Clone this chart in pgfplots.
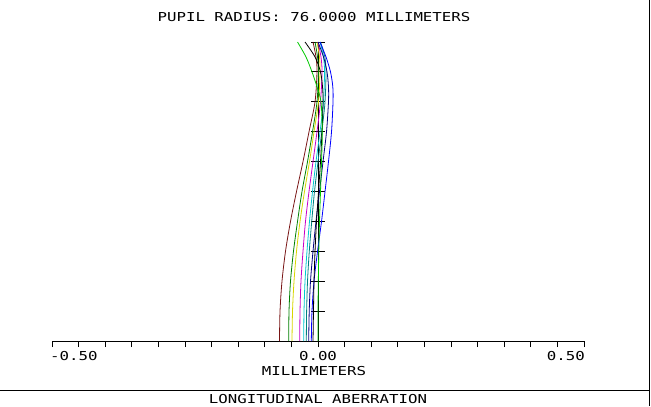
\documentclass[border=0pt]{standalone}
\usepackage{fontspec}
\usepackage{pgfplots}
\pgfplotsset{compat=1.18}
\newfontfamily\zfont[FakeStretch=1.28]{DejaVu Sans Mono}
\newcommand\ztext{\zfont\fontsize{12.3bp}{14bp}\selectfont}
\definecolor{zMaroon}{RGB}{120,20,20}
\definecolor{zDkGreen}{RGB}{0,128,0}
\definecolor{zYellow}{RGB}{215,215,0}
\definecolor{zMagenta}{RGB}{200,0,200}
\definecolor{zCyan}{RGB}{0,200,210}
\definecolor{zTeal}{RGB}{0,128,128}
\definecolor{zNavy}{RGB}{0,0,128}
\definecolor{zBlue}{RGB}{0,0,255}
\definecolor{zGreen}{RGB}{0,200,0}

\begin{document}
\begin{tikzpicture}[x=1bp,y=1bp]
\path[use as bounding box] (0,0) rectangle (651,406);
\begin{axis}[name=ax,at={(52bp,65bp)},anchor=south west,scale only axis,width=532bp,height=299bp,
  xmin=-0.5,xmax=0.5,ymin=0,ymax=1,
  axis x line=bottom,axis y line=middle,axis line style={-,line width=0.8bp,black},
  xtick={-0.5,-0.45,...,0.51},xticklabels={},xtick align=outside,major tick length=6bp,
  tick style={line width=0.8bp,black},ytick=\empty,clip=false,
  every axis plot/.append style={line width=0.8bp,smooth,no marks}]
% horizontal ticks on the pupil axis
\pgfplotsinvokeforeach{0.1,0.2,0.3,0.4,0.5,0.6,0.7,0.8,0.9,1.0}{
  \draw[line width=0.8bp] (axis cs:-0.0125,#1) -- (axis cs:0.0125,#1);
}
\addplot[zMaroon] coordinates {(-0.0724,0) (-0.0714,0.1) (-0.0677,0.2) (-0.0611,0.3) (-0.0517,0.4) (-0.0404,0.5) (-0.0282,0.6) (-0.0169,0.7) (-0.0056,0.8) (-0.0019,0.9) (-0.0038,0.95) (-0.0094,1)};
\addplot[zDkGreen] coordinates {(-0.0551,0) (-0.0545,0.1) (-0.0517,0.2) (-0.0461,0.3) (-0.0385,0.4) (-0.0301,0.5) (-0.0197,0.6) (-0.0103,0.7) (-0.0019,0.8) (0.0009,0.9) (-0.0009,0.95) (-0.0056,1)};
\addplot[zYellow] coordinates {(-0.0489,0) (-0.0479,0.1) (-0.0451,0.2) (-0.0404,0.3) (-0.0338,0.4) (-0.0254,0.5) (-0.0160,0.6) (-0.0075,0.7) (0.0009,0.8) (0.0038,0.9) (0.0028,0.95) (-0.0019,1)};
\addplot[zMagenta] coordinates {(-0.0344,0) (-0.0338,0.1) (-0.0320,0.2) (-0.0282,0.3) (-0.0235,0.4) (-0.0169,0.5) (-0.0094,0.6) (-0.0019,0.7) (0.0047,0.8) (0.0075,0.9) (0.0056,0.95) (0.0,1)};
\addplot[zCyan] coordinates {(-0.0269,0) (-0.0263,0.1) (-0.0244,0.2) (-0.0207,0.3) (-0.0160,0.4) (-0.0103,0.5) (-0.0038,0.6) (0.0038,0.7) (0.0103,0.8) (0.0122,0.9) (0.0103,0.95) (0.0038,1)};
\addplot[zTeal] coordinates {(-0.0220,0) (-0.0214,0.1) (-0.0197,0.2) (-0.0164,0.3) (-0.0118,0.4) (-0.0066,0.5) (0.0,0.6) (0.0071,0.7) (0.0132,0.8) (0.0150,0.9) (0.0128,0.95) (0.0047,1)};
\addplot[zNavy] coordinates {(-0.0175,0) (-0.0165,0.1) (-0.0141,0.2) (-0.0094,0.3) (-0.0038,0.4) (0.0028,0.5) (0.0094,0.6) (0.0160,0.7) (0.0197,0.8) (0.0197,0.85) (0.0169,0.9) (0.0103,0.95) (0.0,1)};
\addplot[zBlue] coordinates {(-0.0126,0) (-0.0113,0.1) (-0.0075,0.2) (-0.0009,0.3) (0.0066,0.4) (0.0132,0.5) (0.0197,0.6) (0.0254,0.7) (0.0282,0.8) (0.0278,0.85) (0.0235,0.9) (0.0150,0.95) (0.0038,1)};
\addplot[black] coordinates {(-0.0094,0) (-0.0085,0.1) (-0.0075,0.2) (-0.0056,0.3) (-0.0028,0.4) (0.0009,0.5) (0.0047,0.6) (0.0075,0.7) (0.0094,0.8) (0.0085,0.85) (0.0047,0.9) (-0.0056,0.95) (-0.0244,1)};
\addplot[zGreen] coordinates {(0.0,0) (0.0,0.1) (0.0006,0.2) (0.0015,0.3) (0.0028,0.4) (0.0047,0.5) (0.0066,0.6) (0.0081,0.7) (0.0056,0.8) (-0.0019,0.85) (-0.0113,0.9) (-0.0226,0.95) (-0.0385,1)};
\end{axis}
\node[font=\ztext,inner sep=0] at (314,389) {PUPIL RADIUS: 76.0000 MILLIMETERS};
\node[font=\ztext,inner sep=0,anchor=west] at (50,50) {-0.50};
\node[font=\ztext,inner sep=0] at (318,50) {0.00};
\node[font=\ztext,inner sep=0,anchor=east] at (585,50) {0.50};
\node[font=\ztext,inner sep=0] at (314,35) {MILLIMETERS};
\node[font=\ztext,inner sep=0] at (318,7) {LONGITUDINAL ABERRATION};
\draw[line width=0.8bp] (0,16) -- (649,16);
\draw[line width=0.8bp] (649,0) -- (649,406);
\end{tikzpicture}
\end{document}
